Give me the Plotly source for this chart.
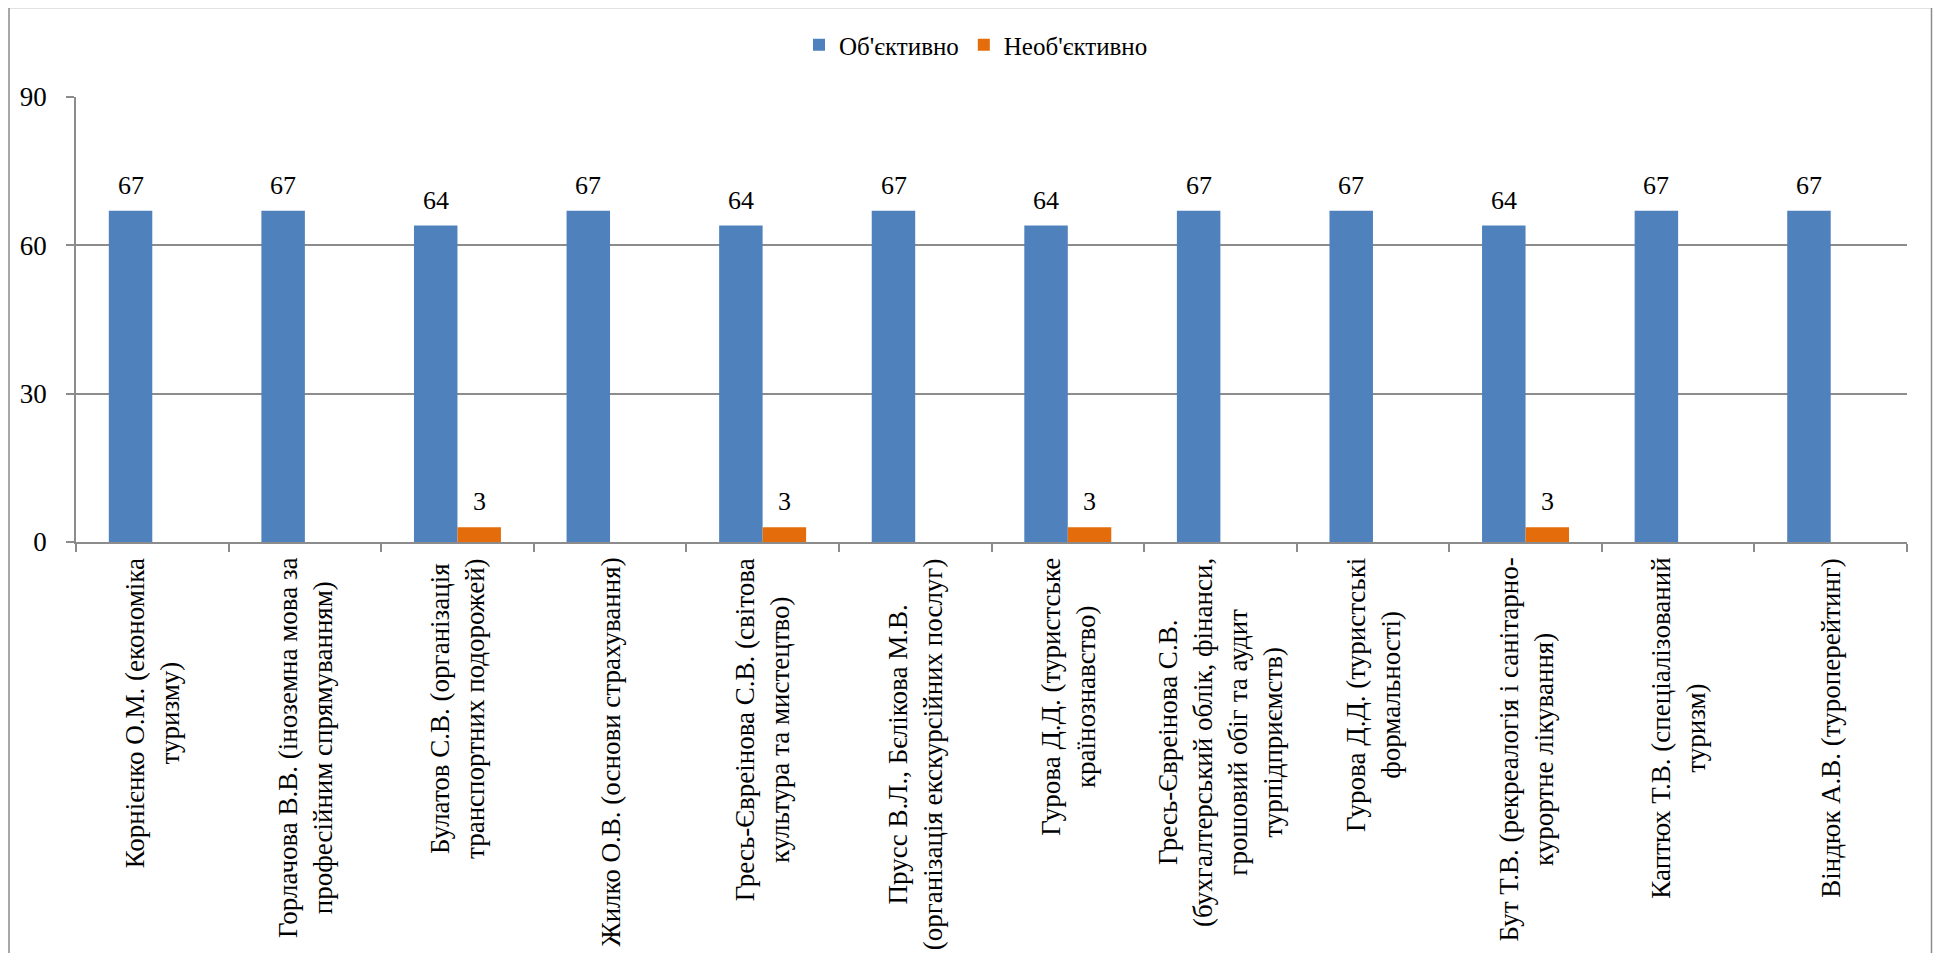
import plotly.graph_objects as go

categories = [
    "Корнієнко О.М. (економіка<br>туризму)",
    "Горлачова В.В. (іноземна мова за<br>професійним спрямуванням)",
    "Булатов С.В. (організація<br>транспортних подорожей)",
    "Жилко О.В. (основи страхування)",
    "Гресь-Євреінова С.В. (світова<br>культура та мистецтво)",
    "Прусс В.Л., Бєлікова М.В.<br>(організація екскурсійних послуг)",
    "Гурова Д.Д. (туристське<br>країнознавство)",
    "Гресь-Євреінова С.В.<br>(бухгалтерський облік, фінанси,<br>грошовий обіг та аудит<br>турпідприємств)",
    "Гурова Д.Д. (туристські<br>формальності)",
    "Бут Т.В. (рекреалогія і санітарно-<br>курортне лікування)",
    "Каптюх Т.В. (спеціалізований<br>туризм)",
    "Віндюк А.В. (туроперейтинг)",
]
cat_ids = [f"c{i}" for i in range(len(categories))]

objective = [67, 67, 64, 67, 64, 67, 64, 67, 67, 64, 67, 67]
non_objective = [0, 0, 3, 0, 3, 0, 3, 0, 0, 3, 0, 0]

series_names = ["Об'єктивно", "Необ'єктивно"]
series_colors = ["#4F81BD", "#E46C0A"]

y_ticks = [0, 30, 60, 90]

FONT = "Liberation Serif, Times New Roman, serif"
GRAY = "#8C8C8C"

# page body has an 8px margin; figure coordinates are page coordinates minus 8
OFF = 8
W, H = 1925, 945
L = 76 - OFF
R = W - (1907 - OFF)
T = 97 - OFF
B = H - (542 - OFF)

fig = go.Figure()
for name, vals, col in zip(series_names, [objective, non_objective], series_colors):
    fig.add_trace(go.Bar(x=cat_ids, y=vals, name=name, marker_color=col,
                         marker_line_width=0))

annotations = []
# data labels
for k, vals in enumerate([objective, non_objective]):
    shift = -21.7 if k == 0 else 21.7
    for cid, v in zip(cat_ids, vals):
        if v > 0:
            annotations.append(dict(x=cid, y=v, xref="x", yref="y", text=str(v),
                                    showarrow=False, xshift=shift, yshift=9,
                                    yanchor="bottom", font=dict(size=26, color="black", family=FONT)))
# category labels
for cid, lab in zip(cat_ids, categories):
    annotations.append(dict(x=cid, y=0, xref="x", yref="paper", text=lab,
                            showarrow=False, textangle=-90, align="center",
                            yanchor="top", xanchor="center", yshift=-14,
                            font=dict(size=27, color="black", family=FONT)))

pw = W - L - R
ph = H - T - B
fig.update_layout(
    width=W, height=H,
    margin=dict(l=L, r=R, t=T, b=B, autoexpand=False),
    paper_bgcolor="white", plot_bgcolor="white",
    barmode="group", bargap=0.43, bargroupgap=0,
    font=dict(family=FONT, size=26, color="black"),
    legend=dict(orientation="h", x=(976 - OFF - L) / pw, xanchor="center",
                y=(H - B - (45 - OFF)) / ph, yanchor="middle",
                font=dict(size=25, family=FONT), itemwidth=30, tracegroupgap=0),
    annotations=annotations,
    shapes=[dict(type="rect", xref="paper", yref="paper",
                 x0=(9 - OFF - L) / pw, x1=(W - 1.5 - L) / pw,
                 y0=(H - B - 975) / ph, y1=(H - B - (7 - OFF) - 0.5) / ph,
                 line=dict(color=GRAY, width=1.5), fillcolor="rgba(0,0,0,0)", layer="below")],
)
fig.update_xaxes(type="category", categoryorder="array", categoryarray=cat_ids,
                 showticklabels=False, tickson="boundaries", ticks="outside",
                 ticklen=8, tickcolor=GRAY, tickwidth=1.5,
                 showline=True, linecolor=GRAY, linewidth=1.5, showgrid=False,
                 zeroline=False)
fig.update_yaxes(range=[0, 90], tickvals=y_ticks, ticks="outside", ticklen=8,
                 tickcolor=GRAY, tickwidth=1.5, showline=True, linecolor=GRAY,
                 linewidth=1.5, showgrid=True, gridcolor=GRAY, gridwidth=1.5,
                 zeroline=False, ticklabelstandoff=14,
                 tickfont=dict(size=27, family=FONT, color="black"))

fig.write_html("out.html")
